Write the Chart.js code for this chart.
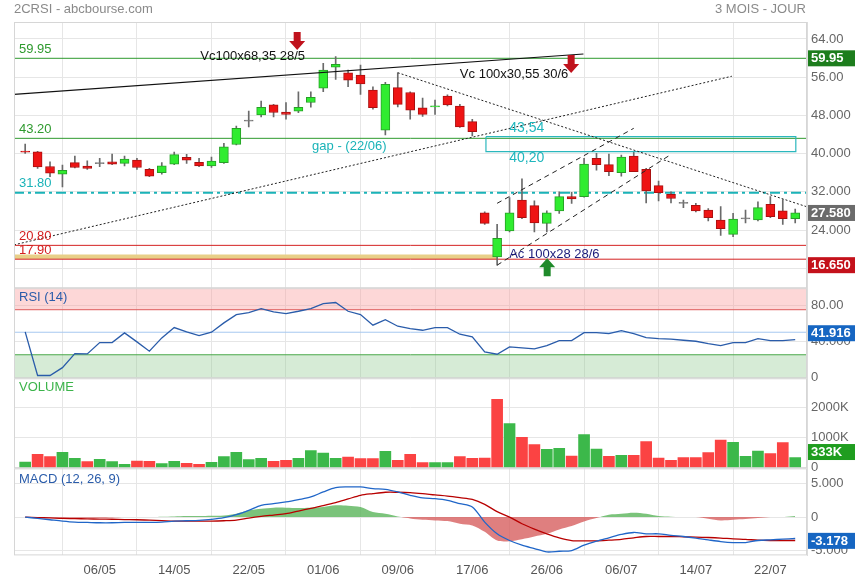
<!DOCTYPE html>
<html>
<head>
<meta charset="utf-8">
<script src="https://cdn.jsdelivr.net/npm/chart.js@4.4.1/dist/chart.umd.min.js"></script>
<style>
  html, body { margin: 0; padding: 0; background: #fff; }
  #wrap { position: relative; width: 855px; height: 580px; font-family: 'Liberation Sans', Arial, sans-serif; }
  #title { position: absolute; left: 14px; top: 1px; font-size: 13px; color: #8a8a8a; }
  #period { position: absolute; right: 49px; top: 1px; font-size: 13px; color: #8a8a8a; }
  canvas { position: absolute; left: 0; top: 0; }
</style>
</head>
<body>
<div id="wrap">
  <canvas id="chart" width="855" height="580"></canvas>
  <div id="title">2CRSI - abcbourse.com</div>
  <div id="period">3 MOIS - JOUR</div>
</div>
<script>
const FONT = "'Liberation Sans', Arial, sans-serif"

// one entry per trading day, index 0 = first candle
const dateTicks = [6, 12, 18, 24, 30, 36, 42, 48, 54, 60]
const dateLabels = ['06/05', '14/05', '22/05', '01/06', '09/06', '17/06', '26/06', '06/07', '14/07', '22/07']

const opens = [40.5, 40.4, 37.3, 35.7, 38.1, 37.4, 37.9, 38.3, 37.95, 38.65,
  36.7, 36.0, 37.8, 39.2, 38.16, 37.45, 38.1, 41.9, 46.8, 48.1,
  50.2, 48.7, 48.9, 50.7, 53.7, 58.1, 56.9, 56.45, 53.3, 44.9,
  53.8, 52.8, 49.6, 49.8, 52.05, 49.96, 46.7, 27.6, 18.4, 23.8,
  30.3, 29.1, 25.4, 28.0, 31.0, 31.0, 39.0, 37.7, 36.0, 39.5,
  36.7, 33.3, 31.5, 29.6, 29.2, 28.2, 26.1, 23.1, 26.35, 26.1,
  29.4, 28.0, 26.4]
const highs = [42.0, 40.5, 38.3, 37.6, 39.5, 38.5, 39.0, 39.9, 39.5, 39.0,
  36.9, 38.1, 40.3, 39.84, 39.0, 39.3, 42.15, 45.77, 48.9, 51.0,
  50.3, 50.7, 52.95, 52.95, 58.9, 60.3, 57.5, 58.55, 54.0, 54.9,
  56.9, 52.95, 51.6, 51.2, 52.3, 50.3, 47.2, 27.8, 25.2, 30.8,
  34.7, 30.1, 28.0, 32.0, 31.9, 39.0, 40.05, 39.9, 39.7, 40.4,
  36.9, 34.25, 32.0, 30.3, 29.6, 28.5, 28.9, 27.5, 28.2, 29.9,
  31.0, 30.4, 28.4]
const lows = [40.05, 36.9, 35.15, 33.05, 37.0, 36.7, 37.25, 37.7, 37.45, 36.7,
  35.15, 35.7, 37.7, 37.95, 37.25, 37.1, 37.95, 41.8, 45.6, 47.7,
  47.7, 47.2, 48.56, 49.7, 52.95, 55.55, 54.0, 52.4, 49.3, 43.9,
  49.8, 47.2, 47.8, 48.2, 49.96, 45.5, 43.7, 25.2, 16.65, 23.6,
  26.4, 23.6, 23.6, 27.5, 29.6, 30.9, 36.55, 35.4, 35.3, 36.2,
  29.7, 30.1, 29.7, 28.7, 27.8, 25.9, 22.9, 22.6, 25.5, 25.9,
  26.6, 25.2, 25.5]
const closes = [40.3, 37.2, 35.9, 36.5, 37.1, 36.9, 37.9, 37.8, 38.85, 37.1,
  35.3, 37.45, 39.8, 38.65, 37.4, 38.45, 41.4, 45.3, 46.8, 49.7,
  48.6, 48.2, 49.7, 51.8, 57.5, 58.7, 55.4, 54.6, 49.6, 54.5,
  50.3, 49.1, 48.2, 50.0, 50.2, 45.6, 44.6, 25.4, 22.25, 27.6,
  26.6, 25.5, 27.6, 31.0, 30.5, 37.8, 37.7, 36.2, 39.3, 36.2,
  32.2, 31.8, 30.6, 29.6, 28.0, 26.6, 24.3, 26.3, 26.35, 28.7,
  26.8, 26.4, 27.58]

// volume in thousands, 1 = green bar, 0 = red bar
const volumes = [187, 443, 367, 510, 310, 200, 277, 200, 110, 220,
  210, 133, 210, 143, 110, 177, 367, 510, 267, 310,
  210, 243, 310, 567, 487, 310, 353, 300, 300, 543,
  243, 443, 167, 167, 167, 367, 310, 320, 2277, 1467,
  1010, 767, 610, 643, 387, 1100, 620, 377, 410, 410,
  867, 320, 243, 333, 333, 500, 920, 843, 377, 553,
  467, 833, 333]
const volumeUp = [1, 0, 0, 1, 1, 0, 1, 1, 1, 0,
  0, 1, 1, 0, 0, 1, 1, 1, 1, 1,
  0, 0, 1, 1, 1, 1, 0, 0, 0, 1,
  0, 0, 0, 1, 1, 0, 0, 0, 0, 1,
  0, 0, 1, 1, 0, 1, 1, 0, 1, 0,
  0, 0, 0, 0, 0, 0, 0, 1, 1, 1,
  0, 0, 1]

const rsi = [50.4, 2, 2, 10.7, 26.3, 25.9, 38.5, 38.5, 49.3, 39.3,
  28.9, 43.7, 55.2, 50.4, 46.3, 50, 60.4, 69.6, 71.8, 76.3,
  72.6, 70.7, 73.3, 76.3, 81.8, 83, 73.3, 69.6, 57.8, 64,
  56.7, 54, 52.2, 55.2, 55.2, 47.8, 44.8, 28.1, 25.6, 33.7,
  32.6, 31.5, 35.2, 40.7, 40.7, 49.6, 49.6, 48.5, 51.8, 48.5,
  44.1, 43, 42.3, 41.1, 40, 37.4, 35.2, 38.5, 38.5, 43,
  40.7, 40.7, 41.9]

const macd = [0, -0.2, -0.4, -0.6, -0.75, -0.8, -0.85, -0.85, -0.8, -0.8,
  -0.8, -0.75, -0.6, -0.55, -0.5, -0.35, -0.1, 0.35, 1.0, 1.75,
  2.0, 2.25, 2.6, 3.0, 3.75, 4.4, 4.5, 4.5, 4.25, 4.13,
  3.75, 3.25, 2.85, 2.74, 2.5, 2.0, 1.5, -0.75, -2.5, -3.5,
  -4.2, -4.7, -5.2, -5.1, -5.0, -4.2, -3.6, -3.1, -2.6, -2.3,
  -2.5, -2.5, -2.73, -2.9, -3.13, -3.4, -3.65, -3.8, -3.8, -3.5,
  -3.4, -3.3, -3.2]
const macdSignal = [0, -0.07, -0.13, -0.2, -0.23, -0.27, -0.3, -0.33, -0.37, -0.4,
  -0.47, -0.53, -0.6, -0.6, -0.6, -0.6, -0.55, -0.45, -0.15, 0.1,
  0.3, 0.5, 0.9, 1.3, 1.7, 2.15, 2.7, 3.25, 3.5, 3.7,
  3.7, 3.65, 3.5, 3.3, 3.13, 2.9, 2.64, 1.9, 0.8, 0.0,
  -1.0, -1.8, -2.5, -3.1, -3.5, -3.55, -3.55, -3.45, -3.33, -3.1,
  -2.9, -2.9, -2.9, -2.95, -3.0, -3.05, -3.13, -3.25, -3.33, -3.45,
  -3.5, -3.5, -3.5]
const macdHist = [0, 0, -0.05, -0.1, -0.1, -0.1, -0.1, -0.05, 0, 0,
  0, 0.05, 0.1, 0.15, 0.15, 0.2, 0.25, 0.5, 1.0, 1.25,
  1.4, 1.4, 1.35, 1.4, 1.5, 1.75, 1.7, 1.5, 0.75, 0.5,
  0.1, -0.2, -0.4, -0.5, -0.6, -1.0, -1.25, -2.2, -3.5, -3.6,
  -3.3, -2.9, -2.5, -1.85, -1.35, -0.65, -0.15, 0.35, 0.5, 0.65,
  0.5, 0.15, 0.05, 0, 0, -0.25, -0.5, -0.4, -0.3, -0.15,
  0, 0, 0.15]

// axis ticks
const priceTicks = [16, 24, 32, 40, 48, 56, 64]
const priceTickLabels = ['16.00', '24.000', '32.000', '40.000', '48.000', '56.00', '64.00']
const rsiTicks = [0, 40, 80]
const rsiTickLabels = ['0', '40.000', '80.00']
const volTicks = [0, 1000, 2000]
const volTickLabels = ['0', '1000K', '2000K']
const macdTicks = [-5, 0, 5]
const macdTickLabels = ['-5.000', '0', '5.000']

// drawn levels and trend lines (price units, x in day index)
const levelValues = [59.95, 43.20, 31.80, 20.80, 17.90]
const levelLabels = ['59.95', '43.20', '31.80', '20.80', '17.90']
const resistanceLine = [[-0.9, 52.4], [44.95, 60.85]]
const supportLine = [[-0.9, 20.9], [56.9, 56.2]]
const downTrend = [[30, 56.93], [62.94, 28.87]]
const channelTop = [[38, 29.6], [49, 45.3]]
const channelBottom = [[38, 16.65], [51.8, 39.5]]
const gapBox = [[37.1, 43.54], [62.05, 43.54], [62.05, 40.4], [37.1, 40.4], [37.1, 43.54]]
const gapBand = [[-0.9, 18.43], [38, 18.43]]

const X_MIN = -0.9
const X_MAX = 62.95

const UP = '#30ec30', UP_EDGE = '#27a027'
const DOWN = '#ee1414', DOWN_EDGE = '#aa1010'
const DOJI = '#777'

const levelStyle = [
  { color: '#2e9a2e', width: 1, dash: [] },
  { color: '#2e9a2e', width: 1, dash: [] },
  { color: '#1ab3b8', width: 2, dash: [10, 4, 3, 4] },
  { color: '#d42020', width: 1, dash: [] },
  { color: '#d42020', width: 1, dash: [] }
]

const notes = [
  { text: 'Vc100x68,35 28/5', x: 14.1, y: 60.43, color: '#111', size: 13 },
  { text: 'Vc 100x30,55 30/6', x: 35.0, y: 56.56, color: '#111', size: 13 },
  { text: 'gap - (22/06)', x: 23.1, y: 41.58, color: '#1ab3b8', size: 13 },
  { text: '43,54', x: 38.97, y: 45.35, color: '#1fb6bd', size: 14 },
  { text: '40,20', x: 38.97, y: 39.07, color: '#1fb6bd', size: 14 },
  { text: 'Ac 100x28 28/6', x: 38.97, y: 18.85, color: '#1a1a7a', size: 13 }
]
const arrows = [
  { x: 21.9, y: 61.7, dir: 1, color: '#c0121c' },
  { x: 43.96, y: 56.87, dir: 1, color: '#c0121c' },
  { x: 42.03, y: 18.1, dir: -1, color: '#1f8a2a' }
]
const tags = [
  { axis: 'y', value: 59.95, text: '59.95', bg: '#1d7d1d' },
  { axis: 'y', value: 27.58, text: '27.580', bg: '#6b6b6b' },
  { axis: 'y', value: 16.65, text: '16.650', bg: '#c4111b' },
  { axis: 'yRsi', value: 48.9, text: '41.916', bg: '#1666c2' },
  { axis: 'yVol', value: 520, text: '333K', bg: '#1f9d1f' },
  { axis: 'yMacd', value: -3.55, text: '-3.178', bg: '#1666c2' }
]

const days = closes.map((_, i) => i)
const candleFill = days.map(i => closes[i] > opens[i] ? UP : closes[i] < opens[i] ? DOWN : DOJI)
const candleEdge = days.map(i => closes[i] > opens[i] ? UP_EDGE : closes[i] < opens[i] ? DOWN_EDGE : DOJI)

function seg(points, color, width, dash, order) {
  return {
    type: 'line', yAxisID: 'y',
    data: points.map(([x, y]) => ({ x, y })),
    borderColor: color, borderWidth: width, borderDash: dash || [],
    pointRadius: 0, fill: false, tension: 0, order: order ?? 0
  }
}

function panelAxis(weight, min, max, ticks, labels) {
  return {
    type: 'linear', position: 'right', stack: 'panels', stackWeight: weight,
    min, max,
    afterBuildTicks: s => { s.ticks = ticks.map(v => ({ value: v })) },
    afterFit: s => { s.width = 48 },
    ticks: { callback: (v, i) => labels[i], color: '#666', font: { size: 13, family: FONT }, padding: 4 },
    grid: { color: '#e6e6e6', drawTicks: false, tickLength: 0 },
    border: { color: '#dcdcdc' }
  }
}

function drawArrow(ctx, x, tip, dir, color) {
  ctx.fillStyle = color
  ctx.beginPath()
  ctx.moveTo(x, tip)
  ctx.lineTo(x - 8, tip - dir * 9)
  ctx.lineTo(x - 3.5, tip - dir * 9)
  ctx.lineTo(x - 3.5, tip - dir * 18)
  ctx.lineTo(x + 3.5, tip - dir * 18)
  ctx.lineTo(x + 3.5, tip - dir * 9)
  ctx.lineTo(x + 8, tip - dir * 9)
  ctx.closePath()
  ctx.fill()
}

const decor = {
  id: 'decor',
  beforeDatasetsDraw(chart) {
    const { ctx, chartArea: a, scales } = chart
    const r = scales.yRsi
    const y75 = r.getPixelForValue(75), y25 = r.getPixelForValue(25), y50 = r.getPixelForValue(50)
    ctx.save()
    ctx.fillStyle = 'rgba(250, 160, 160, 0.42)'
    ctx.fillRect(a.left, r.top, a.width, y75 - r.top)
    ctx.fillStyle = 'rgba(140, 200, 140, 0.36)'
    ctx.fillRect(a.left, y25, a.width, r.bottom - y25)
    const hl = (y, c) => { ctx.strokeStyle = c; ctx.lineWidth = 1; ctx.beginPath(); ctx.moveTo(a.left, y); ctx.lineTo(a.right, y); ctx.stroke() }
    hl(y75, '#de5a5a')
    hl(y25, '#4aa84a')
    hl(y50, '#a6c8f0')
    ctx.restore()
  },
  afterDraw(chart) {
    const { ctx, chartArea: a, scales } = chart
    const sx = scales.x, sy = scales.y
    ctx.save()
    // panel frames
    ctx.strokeStyle = '#d6d6d6'
    ctx.lineWidth = 1
    ;['y', 'yRsi', 'yVol', 'yMacd'].forEach(id => {
      const s = scales[id]
      ctx.strokeRect(a.left + 0.5, s.top + 0.5, a.width - 1, s.height - 1)
    })
    ctx.font = '13px ' + FONT
    ctx.textAlign = 'left'
    ctx.textBaseline = 'middle'
    // level labels
    levelValues.forEach((v, i) => {
      ctx.fillStyle = levelStyle[i].color
      ctx.fillText(levelLabels[i], a.left + 5, sy.getPixelForValue(v) - 9)
    })
    notes.forEach(n => {
      ctx.font = n.size + 'px ' + FONT
      ctx.fillStyle = n.color
      ctx.fillText(n.text, sx.getPixelForValue(n.x), sy.getPixelForValue(n.y))
    })
    arrows.forEach(ar => drawArrow(ctx, sx.getPixelForValue(ar.x), sy.getPixelForValue(ar.y), ar.dir, ar.color))
    // panel titles
    ctx.font = '13px ' + FONT
    ctx.fillStyle = '#2a5caa'
    ctx.fillText('RSI (14)', a.left + 5, scales.yRsi.top + 9)
    ctx.fillStyle = '#3cb44b'
    ctx.fillText('VOLUME', a.left + 5, scales.yVol.top + 9)
    ctx.fillStyle = '#2a5caa'
    ctx.fillText('MACD (12, 26, 9)', a.left + 5, scales.yMacd.top + 11)
    // value tags
    ctx.font = 'bold 13px ' + FONT
    tags.forEach(t => {
      const y = scales[t.axis].getPixelForValue(t.value)
      ctx.fillStyle = t.bg
      ctx.fillRect(a.right + 1, y - 8, chart.width - a.right - 1, 16)
      ctx.fillStyle = '#fff'
      ctx.fillText(t.text, a.right + 4, y + 0.5)
    })
    ctx.restore()
  }
}

const datasets = [
  {
    type: 'bar', yAxisID: 'y', order: 3, grouped: false,
    data: days.map(i => ({ x: i, y: [lows[i], highs[i]] })),
    backgroundColor: '#6a6a6a', barThickness: 1
  },
  {
    type: 'bar', yAxisID: 'y', order: 2, grouped: false,
    data: days.map(i => ({ x: i, y: [opens[i], closes[i]] })),
    backgroundColor: candleFill, borderColor: candleEdge, borderWidth: 1,
    borderSkipped: false, barThickness: 9, minBarLength: 1
  },
  seg(gapBand, '#e8cf88', 4.5, [], 5),
  ...levelValues.map((v, i) => seg([[X_MIN, v], [X_MAX, v]], levelStyle[i].color, levelStyle[i].width, levelStyle[i].dash, 4)),
  seg(resistanceLine, '#111', 1.2),
  seg(supportLine, '#222', 1, [2, 2]),
  seg(downTrend, '#222', 1, [2, 2]),
  seg(channelTop, '#222', 1, [5, 4]),
  seg(channelBottom, '#222', 1, [5, 4]),
  seg(gapBox, '#2bb7bd', 1.2),
  {
    type: 'line', yAxisID: 'yRsi',
    data: days.map(i => ({ x: i, y: rsi[i] })),
    borderColor: '#2a5caa', borderWidth: 1.3, pointRadius: 0, tension: 0
  },
  {
    type: 'bar', yAxisID: 'yVol', grouped: false,
    data: days.map(i => ({ x: i, y: volumes[i] })),
    backgroundColor: days.map(i => volumeUp[i] ? '#3cb84a' : '#fb4343'),
    barThickness: 11
  },
  {
    type: 'line', yAxisID: 'yMacd', order: 2,
    data: days.map(i => ({ x: i, y: macdHist[i] })),
    borderWidth: 0, pointRadius: 0, tension: 0.3,
    fill: { target: 'origin', above: 'rgba(90, 180, 90, 0.8)', below: 'rgba(215, 95, 95, 0.8)' }
  },
  {
    type: 'line', yAxisID: 'yMacd', order: 1,
    data: days.map(i => ({ x: i, y: macdSignal[i] })),
    borderColor: '#b80000', borderWidth: 1.3, pointRadius: 0, tension: 0.3
  },
  {
    type: 'line', yAxisID: 'yMacd', order: 0,
    data: days.map(i => ({ x: i, y: macd[i] })),
    borderColor: '#2066c8', borderWidth: 1.3, pointRadius: 0, tension: 0.3
  }
]

new Chart(document.getElementById('chart'), {
  type: 'bar',
  data: { datasets },
  options: {
    responsive: false,
    animation: false,
    layout: { padding: { top: 22, left: 14, right: 0, bottom: -5 } },
    plugins: { legend: { display: false }, tooltip: { enabled: false } },
    scales: {
      x: {
        type: 'linear', min: X_MIN, max: X_MAX, offset: false,
        afterBuildTicks: s => { s.ticks = dateTicks.map(v => ({ value: v })) },
        ticks: { callback: (v, i) => dateLabels[i], color: '#555', font: { size: 13, family: FONT }, padding: 7, maxRotation: 0, autoSkip: false },
        grid: { color: '#e6e6e6', drawTicks: false, tickLength: 0 },
        border: { display: false }
      },
      y: panelAxis(266, 11.83, 67.55, priceTicks, priceTickLabels),
      yRsi: panelAxis(90, -1.1, 98.9, rsiTicks, rsiTickLabels),
      yVol: panelAxis(90, -23, 2977, volTicks, volTickLabels),
      yMacd: panelAxis(87, -5.72, 7.27, macdTicks, macdTickLabels)
    }
  },
  plugins: [decor]
})
</script>
</body>
</html>
